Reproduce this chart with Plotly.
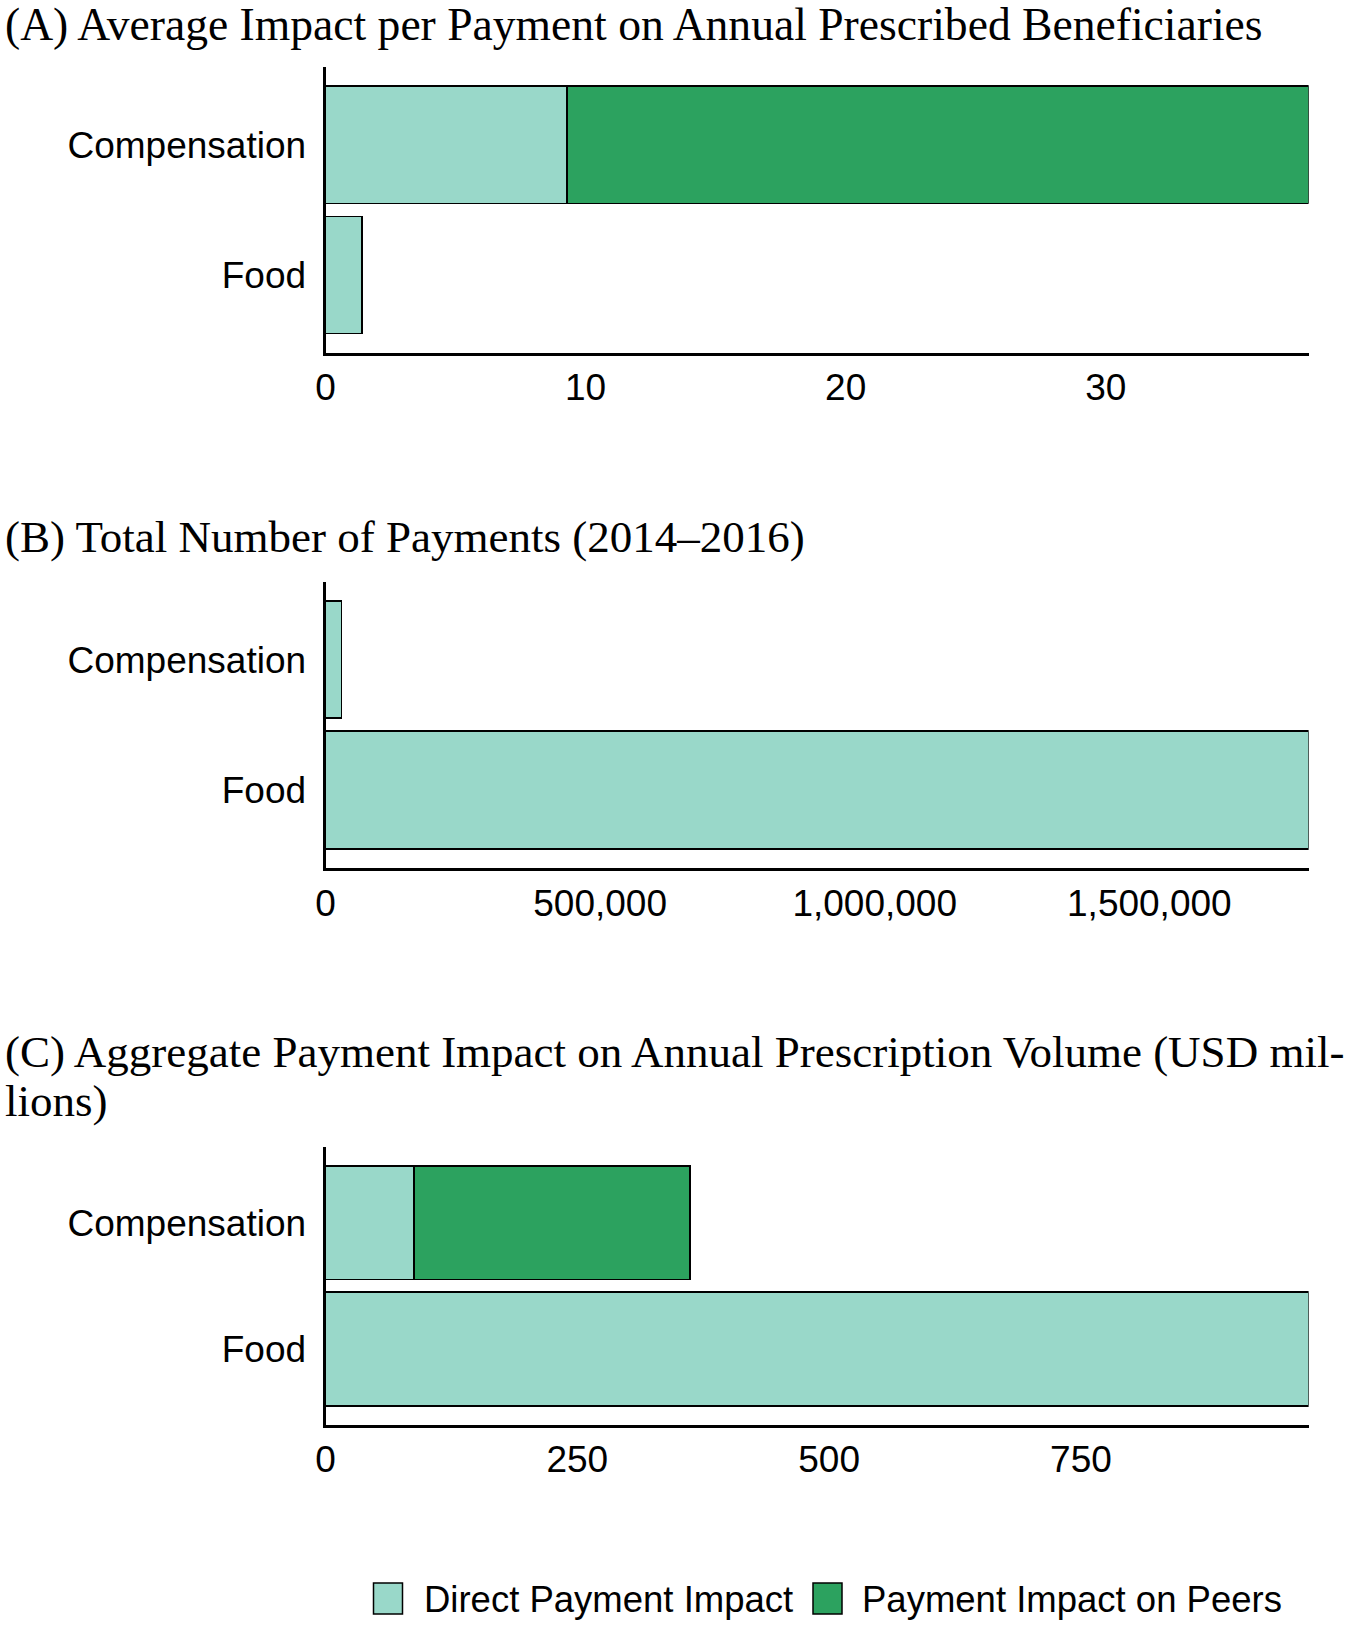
import plotly.graph_objects as go

# ---------------- data ----------------
categories = ["Compensation", "Food"]
series_names = ["Direct Payment Impact", "Payment Impact on Peers"]

# (A) Average impact per payment on annual prescribed beneficiaries
impact_direct = [9.3, 1.4]
impact_peers = [28.5, None]

# (B) Total number of payments (2014-2016)
payments_direct = [29000, 1790000]

# (C) Aggregate payment impact on annual prescription volume (USD millions)
aggregate_direct = [88, 976]
aggregate_peers = [274, None]

ticks_a = [0, 10, 20, 30]
ticks_b = [0, 500000, 1000000, 1500000]
ticks_b_text = ["0", "500,000", "1,000,000", "1,500,000"]
ticks_c = [0, 250, 500, 750]

title_a = "(A) Average Impact per Payment on Annual Prescribed Beneficiaries"
title_b = "(B) Total Number of Payments (2014\u20132016)"
title_c_lines = ["(C) Aggregate Payment Impact on Annual Prescription Volume (USD mil-", "lions)"]

# ---------------- style ----------------
W, H = 1348, 1626
LIGHT = "#99d8c9"
DARK = "#2ca25f"
SANS = "Liberation Sans, Arial, Helvetica, sans-serif"
SERIF = "Liberation Serif, Times New Roman, serif"


def px_x(p):
    return p / W


def px_y(p):
    return 1 - p / H


def total(a, b):
    return max((x or 0) + (y or 0) for x, y in zip(a, b))


fig = go.Figure()

panels = [
    ("x", "y", impact_direct, impact_peers),
    ("x2", "y2", payments_direct, None),
    ("x3", "y3", aggregate_direct, aggregate_peers),
]
for i, (xa, ya, direct, peers) in enumerate(panels):
    fig.add_trace(go.Bar(
        y=categories, x=direct, orientation="h", name=series_names[0],
        marker=dict(color=LIGHT, line=dict(color="black", width=1.8)),
        xaxis=xa, yaxis=ya, showlegend=False,
    ))
    if peers is not None:
        fig.add_trace(go.Bar(
            y=categories, x=peers, orientation="h", name=series_names[1],
            marker=dict(color=DARK, line=dict(color="black", width=1.8)),
            xaxis=xa, yaxis=ya, showlegend=False,
        ))

x_dom = [px_x(325.5), px_x(1308.6)]
y_doms = [
    [px_y(353.0), px_y(66.8)],
    [px_y(868.2), px_y(581.5)],
    [px_y(1424.8), px_y(1146.7)],
]
x_ranges = [
    [0, total(impact_direct, impact_peers)],
    [0, max(payments_direct)],
    [0, total(aggregate_direct, aggregate_peers)],
]
x_ticks = [
    (ticks_a, [str(t) for t in ticks_a]),
    (ticks_b, ticks_b_text),
    (ticks_c, [str(t) for t in ticks_c]),
]

common_x = dict(showline=True, linewidth=3, linecolor="black", showgrid=False,
                zeroline=False, ticks="", automargin=False,
                tickfont=dict(family=SANS, size=37, color="black"),
                ticklabelstandoff=0, fixedrange=True)
common_y = dict(showline=True, linewidth=3, linecolor="black", showgrid=False,
                zeroline=False, ticks="", type="category", automargin=False,
                tickfont=dict(family=SANS, size=37, color="black"),
                ticklabelstandoff=9, range=[1.6, -0.6], fixedrange=True)

layout = {}
for i in range(3):
    xn = "xaxis" if i == 0 else f"xaxis{i+1}"
    yn = "yaxis" if i == 0 else f"yaxis{i+1}"
    anchor_y = "y" if i == 0 else f"y{i+1}"
    anchor_x = "x" if i == 0 else f"x{i+1}"
    layout[xn] = dict(common_x, domain=x_dom, anchor=anchor_y, range=x_ranges[i],
                      tickvals=x_ticks[i][0], ticktext=x_ticks[i][1])
    layout[yn] = dict(common_y, domain=y_doms[i], anchor=anchor_x)

fig.update_layout(**layout)

annotations = [
    dict(text=title_a, x=px_x(3), y=px_y(24), font_size=45.6),
    dict(text=title_b, x=px_x(3), y=px_y(537), font_size=45),
    dict(text=title_c_lines[0], x=px_x(3), y=px_y(1052), font_size=45),
    dict(text=title_c_lines[1], x=px_x(3), y=px_y(1101), font_size=45),
]
for a in annotations:
    a.update(xref="paper", yref="paper", showarrow=False, xanchor="left", yanchor="middle",
             font=dict(family=SERIF, size=a.pop("font_size"), color="black"))

# legend (drawn manually to reproduce the large swatches)
legend_items = [(series_names[0], LIGHT, 373.5, 422), (series_names[1], DARK, 813, 860)]
shapes = []
for name, col, sx, tx in legend_items:
    shapes.append(dict(type="rect", xref="paper", yref="paper",
                       x0=px_x(sx), x1=px_x(sx + 29), y0=px_y(1614), y1=px_y(1583),
                       fillcolor=col, line=dict(color="black", width=1.5)))
    annotations.append(dict(text=name, x=px_x(tx), y=px_y(1599), xref="paper", yref="paper",
                            xanchor="left", yanchor="middle", showarrow=False,
                            font=dict(family=SANS, size=36.5, color="black")))

fig.update_layout(
    width=W, height=H,
    margin=dict(l=0, r=0, t=0, b=0, autoexpand=False),
    paper_bgcolor="white", plot_bgcolor="white",
    barmode="stack", bargap=0.1,
    showlegend=False,
    annotations=annotations,
    shapes=shapes,
)

fig.write_html("out.html", config={"displayModeBar": False},
               post_script="document.body.style.margin='0';")
